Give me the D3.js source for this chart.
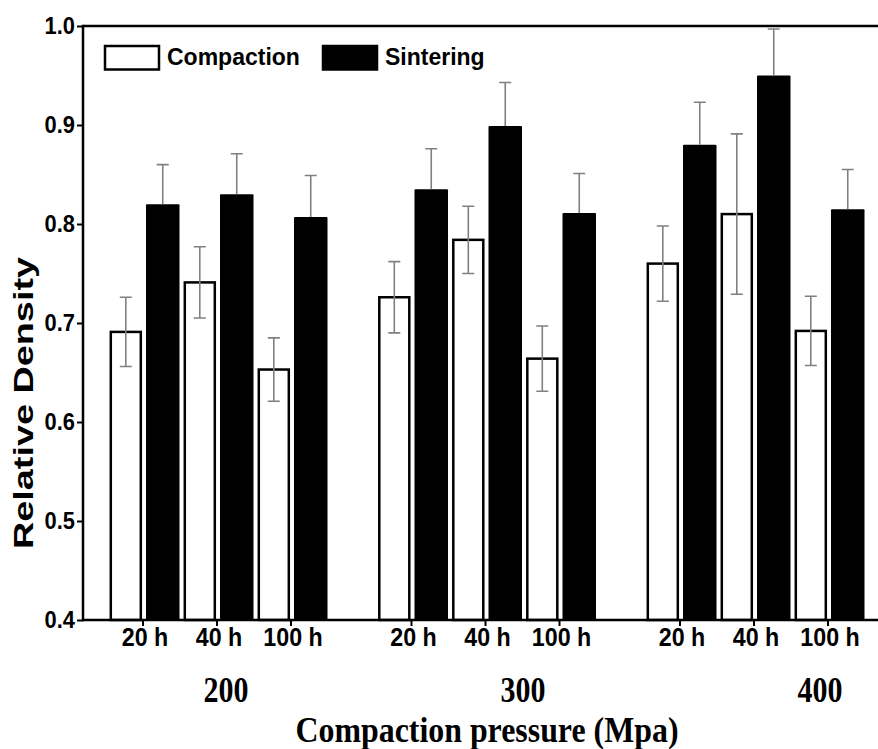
<!DOCTYPE html>
<html>
<head>
<meta charset="utf-8">
<script src="https://cdn.jsdelivr.net/npm/d3@7"></script>
<style>
  body { margin: 0; background: #fff; }
  svg { display: block; }
  .sans { font-family: "Liberation Sans", Arial, sans-serif; font-weight: bold; }
  .serif { font-family: "Liberation Serif", "Times New Roman", serif; font-weight: bold; }
</style>
</head>
<body>
<div id="chart"></div>
<script>
// values
var pressures = ["200", "300", "400"];
var durations = ["20 h", "40 h", "100 h"];
var compaction    = [0.691, 0.741, 0.653, 0.726, 0.784, 0.664, 0.760, 0.810, 0.692];
var compactionErr = [0.035, 0.036, 0.032, 0.036, 0.034, 0.033, 0.038, 0.081, 0.035];
var sintering     = [0.820, 0.830, 0.807, 0.835, 0.899, 0.811, 0.880, 0.950, 0.815];
var sinteringErr  = [0.040, 0.041, 0.042, 0.041, 0.044, 0.040, 0.043, 0.047, 0.040];
var yTicks = [0.4, 0.5, 0.6, 0.7, 0.8, 0.9, 1.0];
var seriesNames = ["Compaction", "Sintering"];

var width = 878, height = 749;
var plotLeft = 83, plotTop = 26, plotBottom = 620;

var svg = d3.select("#chart").append("svg")
  .attr("width", width)
  .attr("height", height);

var y = d3.scaleLinear().domain([0.4, 1.0]).range([plotBottom, plotTop]);
var xGroup = d3.scalePoint().domain(pressures).range([217, 754]);
var xSub = d3.scalePoint().domain(durations).range([-74, 74]);
var xGroupLabel = d3.scalePoint().domain(pressures).range([226, 820]);

// flatten rows
var rows = [];
pressures.forEach((p, gi) => {
  durations.forEach((d, di) => {
    var i = gi * durations.length + di;
    rows.push({
      pressure: p, duration: d,
      c: compaction[i], cErr: compactionErr[i],
      s: sintering[i], sErr: sinteringErr[i],
      x: xGroup(p) + xSub(d)
    });
  });
});

// squeeze/stretch text along its baseline
function stretch(sel, factor) {
  sel.each(function() {
    var len = this.getComputedTextLength();
    d3.select(this).attr("textLength", len * factor).attr("lengthAdjust", "spacingAndGlyphs");
  });
}

// bars
var bars = svg.append("g");
bars.selectAll(".cbar").data(rows)
  .join("rect")
  .attr("class", "cbar")
  .attr("x", d => d.x - 32.2)
  .attr("width", 30)
  .attr("y", d => y(d.c))
  .attr("height", d => plotBottom - y(d.c))
  .attr("fill", "#fff")
  .attr("stroke", "#000")
  .attr("stroke-width", 2.5);

bars.selectAll(".sbar").data(rows)
  .join("rect")
  .attr("class", "sbar")
  .attr("x", d => d.x + 3)
  .attr("width", 33.5)
  .attr("y", d => y(d.s))
  .attr("height", d => plotBottom - y(d.s))
  .attr("rx", 1)
  .attr("fill", "#000");

// error bars
var err = svg.append("g")
  .attr("stroke", "#808080")
  .attr("stroke-width", 1.6)
  .attr("fill", "none");

err.selectAll(".cerr").data(rows)
  .join("path")
  .attr("class", "cerr")
  .attr("d", d => {
    var cx = d.x - 17.2, t = y(d.c + d.cErr), b = y(d.c - d.cErr);
    return `M${cx},${t}V${b}M${cx - 6},${t}H${cx + 6}M${cx - 6},${b}H${cx + 6}`;
  });

err.selectAll(".serr").data(rows)
  .join("path")
  .attr("class", "serr")
  .attr("d", d => {
    var cx = d.x + 19.75, t = y(d.s + d.sErr), b = y(d.s);
    return `M${cx},${t}V${b}M${cx - 6},${t}H${cx + 6}`;
  });

// frame: left axis, bottom axis, top border
var frame = svg.append("g").attr("stroke", "#000").attr("fill", "none");
frame.append("line").attr("x1", plotLeft).attr("x2", plotLeft).attr("y1", plotTop - 1.2).attr("y2", plotBottom + 1.2).attr("stroke-width", 2.5);
frame.append("line").attr("x1", plotLeft).attr("x2", width).attr("y1", plotBottom).attr("y2", plotBottom).attr("stroke-width", 2.5);
frame.append("line").attr("x1", plotLeft).attr("x2", width).attr("y1", plotTop).attr("y2", plotTop).attr("stroke-width", 2.5);

// y axis
var yAxis = d3.axisLeft(y).tickValues(yTicks).tickFormat(d3.format(".1f")).tickSize(6).tickPadding(2);
var yg = svg.append("g").attr("transform", `translate(${plotLeft},0)`).call(yAxis);
yg.select(".domain").remove();
yg.selectAll(".tick line").attr("stroke-width", 2);
yg.selectAll(".tick text")
  .attr("class", "sans")
  .attr("font-size", 23)
  .attr("fill", "#000")
  .call(stretch, 0.95);

// x axis (duration ticks)
var xTickG = svg.append("g");
xTickG.selectAll("line").data(rows)
  .join("line")
  .attr("x1", d => d.x).attr("x2", d => d.x)
  .attr("y1", plotBottom).attr("y2", plotBottom + 6)
  .attr("stroke", "#000").attr("stroke-width", 2);

xTickG.selectAll("text").data(rows)
  .join("text")
  .attr("class", "sans")
  .attr("x", d => d.x + 2)
  .attr("y", 646)
  .attr("text-anchor", "middle")
  .attr("font-size", 25)
  .text(d => d.duration)
  .call(stretch, 0.93);

// pressure labels
svg.selectAll(".plabel").data(pressures)
  .join("text")
  .attr("class", "plabel serif")
  .attr("x", d => xGroupLabel(d))
  .attr("y", 702)
  .attr("text-anchor", "middle")
  .attr("font-size", 36)
  .text(d => d)
  .attr("textLength", 45)
  .attr("lengthAdjust", "spacingAndGlyphs");

// axis titles
svg.append("text")
  .attr("class", "serif")
  .attr("x", 487)
  .attr("y", 742)
  .attr("text-anchor", "middle")
  .attr("font-size", 36)
  .attr("textLength", 383)
  .attr("lengthAdjust", "spacingAndGlyphs")
  .text("Compaction pressure (Mpa)");

svg.append("text")
  .attr("class", "sans")
  .attr("transform", "translate(33,403) rotate(-90)")
  .attr("text-anchor", "middle")
  .attr("font-size", 27)
  .attr("textLength", 292)
  .attr("lengthAdjust", "spacingAndGlyphs")
  .text("Relative Density");

// legend
var legend = svg.append("g");
var legendItems = [
  {name: seriesNames[0], fill: "#fff"},
  {name: seriesNames[1], fill: "#000"}
];
var legendX = d3.scalePoint().domain(seriesNames).range([105, 323]);
legend.selectAll("rect").data(legendItems)
  .join("rect")
  .attr("x", d => legendX(d.name))
  .attr("y", 46)
  .attr("width", 54)
  .attr("height", 23.5)
  .attr("fill", d => d.fill)
  .attr("stroke", "#000")
  .attr("stroke-width", 2.5);
legend.selectAll("text").data(legendItems)
  .join("text")
  .attr("class", "sans")
  .attr("x", d => legendX(d.name) + 62)
  .attr("y", 65)
  .attr("font-size", 23)
  .text(d => d.name);
</script>
</body>
</html>
